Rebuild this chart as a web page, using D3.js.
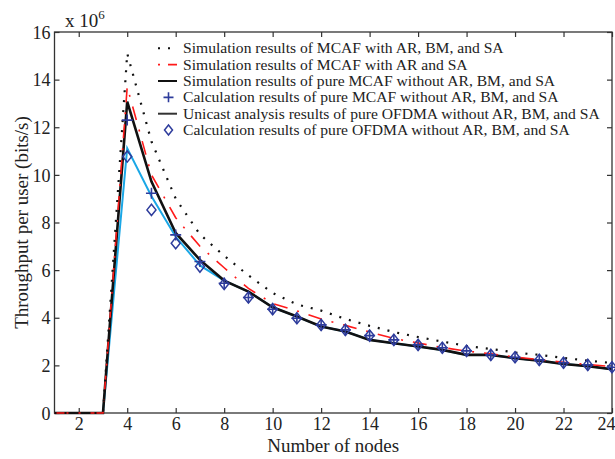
<!DOCTYPE html>
<html><head><meta charset="utf-8">
<script src="https://cdn.jsdelivr.net/npm/d3@7"></script>
<style>body{margin:0;background:#fff}svg{display:block}text{font-family:"Liberation Serif","Times New Roman",serif;fill:#222}</style>
</head><body><div id="c"></div>
<script>
const nodes = d3.range(1, 25);
const simFull   = [0,0,0,15.1,11.4,9.0,7.5,6.6,5.78,5.04,4.56,4.30,3.95,3.66,3.40,3.19,3.00,2.82,2.69,2.54,2.44,2.31,2.20,2.10];
const simARSA   = [0,0,0,13.7,10.0,8.2,7.0,6.1,5.23,4.60,4.29,3.95,3.68,3.40,3.13,2.94,2.75,2.60,2.49,2.35,2.24,2.13,2.04,1.95];
const simPure   = [0,0,0,13.08,9.72,7.56,6.43,5.56,5.10,4.44,4.05,3.63,3.42,3.07,2.93,2.79,2.65,2.44,2.44,2.30,2.20,2.06,1.97,1.84];
const calcPure  = [null,null,null,12.3,9.23,7.48,6.36,5.45,4.85,4.36,3.98,3.70,3.49,3.25,3.07,2.86,2.74,2.61,2.44,2.34,2.23,2.11,2.02,1.92];
const unicast   = [0,0,0,11.12,9.1,7.4,6.2,5.56,5.10,4.44,4.05,3.63,3.42,3.07,2.93,2.79,2.65,2.44,2.44,2.30,2.20,2.06,1.97,1.84];
const calcOfdma = [null,null,null,10.77,8.53,7.13,6.15,5.42,4.85,4.36,3.98,3.70,3.49,3.25,3.07,2.86,2.74,2.61,2.44,2.34,2.23,2.11,2.02,1.92];
const xTicks = d3.range(2, 25, 2);
const yTicks = d3.range(0, 17, 2);
const legendLabels = [
  "Simulation results of MCAF with AR, BM, and SA",
  "Simulation results of MCAF with AR and SA",
  "Simulation results of pure MCAF without AR, BM, and SA",
  "Calculation results of pure MCAF without AR, BM, and SA",
  "Unicast analysis results of pure OFDMA without AR, BM, and SA",
  "Calculation results of pure OFDMA without AR, BM, and SA"
];

const W = 615, H = 459;
const m = {l:54.5, r:3, t:32, b:46};
const svg = d3.select("#c").append("svg").attr("width", W).attr("height", H);
const x = d3.scaleLinear().domain([1,24]).range([m.l, W-m.r]);
const y = d3.scaleLinear().domain([0,16]).range([H-m.b, m.t]);
const blue = "#2e3c9c";
const axisCol = "#333";

// frame
svg.append("rect").attr("x", x(1)).attr("y", y(16)).attr("width", x(24)-x(1)).attr("height", y(0)-y(16))
  .attr("fill","none").attr("stroke",axisCol).attr("stroke-width",1.3);

// axes
const ax = svg.append("g").attr("transform",`translate(0,${y(0)})`)
  .call(d3.axisBottom(x).tickValues(xTicks).tickSizeInner(-5).tickSizeOuter(0).tickPadding(4));
const axT = svg.append("g").attr("transform",`translate(0,${y(16)})`)
  .call(d3.axisTop(x).tickValues(xTicks).tickSizeInner(-5).tickSizeOuter(0).tickFormat(""));
const ay = svg.append("g").attr("transform",`translate(${x(1)},0)`)
  .call(d3.axisLeft(y).tickValues(yTicks).tickSizeInner(-5).tickSizeOuter(0).tickPadding(4));
const ayR = svg.append("g").attr("transform",`translate(${x(24)},0)`)
  .call(d3.axisRight(y).tickValues(yTicks).tickSizeInner(-5).tickSizeOuter(0).tickFormat(""));
[ax,axT,ay,ayR].forEach(g=>{g.select(".domain").remove();g.selectAll("line").attr("stroke",axisCol).attr("stroke-width",1.2);
  g.selectAll("text").style("font-family",'"Liberation Serif",serif').style("font-size","18px").attr("fill","#222");});
ay.selectAll("text").attr("dy","0.34em");
ax.selectAll(".tick").filter(d=>d===24).select("text").attr("text-anchor","end").attr("x",3);

// lines
const lineGen = arr => d3.line().defined((d,i)=>arr[i]!=null).x((d,i)=>x(nodes[i])).y((d,i)=>y(arr[i]))(arr);
const plot = svg.append("g");
plot.append("path").attr("d", lineGen(unicast)).attr("fill","none").attr("stroke","#1aa7e6").attr("stroke-width",2);
plot.append("path").attr("d", lineGen(simPure)).attr("fill","none").attr("stroke","#111").attr("stroke-width",2.6);
plot.append("path").attr("d", lineGen(simARSA)).attr("fill","none").attr("stroke","#ff1a1a").attr("stroke-width",1.6)
  .attr("stroke-dasharray","14,10,2,10");
plot.append("path").attr("d", lineGen(simFull)).attr("fill","none").attr("stroke","#111").attr("stroke-width",2.2)
  .attr("stroke-dasharray","2,8");

const diamond = (cx,cy,s)=>`M${cx},${cy-s*1.25}L${cx+s},${cy}L${cx},${cy+s*1.25}L${cx-s},${cy}Z`;
const plus = (cx,cy,s)=>`M${cx-s},${cy}H${cx+s}M${cx},${cy-s}V${cy+s}`;
plot.selectAll(".dm").data(nodes.filter((d,i)=>calcOfdma[i]!=null)).enter().append("path")
  .attr("d", d=>diamond(x(d), y(calcOfdma[d-1]), 4.5)).attr("fill","none").attr("stroke",blue).attr("stroke-width",1.5);
plot.selectAll(".pl").data(nodes.filter((d,i)=>calcPure[i]!=null)).enter().append("path")
  .attr("d", d=>plus(x(d), y(calcPure[d-1]), 5.5)).attr("fill","none").attr("stroke",blue).attr("stroke-width",1.6);

// legend
const lg = svg.append("g");
const ly0 = 48.3, ldy = 16.35, lx0 = 158, lx1 = 177, ltx = 183;
legendLabels.forEach((t,i)=>{
  const yy = ly0 + i*ldy;
  if(i===0){
    lg.append("line").attr("x1",lx0).attr("x2",lx1).attr("y1",yy).attr("y2",yy).attr("stroke","#111").attr("stroke-width",2).attr("stroke-dasharray","2,8");
  } else if(i===1){
    lg.append("line").attr("x1",lx0).attr("x2",lx1).attr("y1",yy).attr("y2",yy).attr("stroke","#ff1a1a").attr("stroke-width",1.6).attr("stroke-dasharray","2,8,10,10");
  } else if(i===2){
    lg.append("line").attr("x1",lx0).attr("x2",lx1).attr("y1",yy).attr("y2",yy).attr("stroke","#111").attr("stroke-width",2);
  } else if(i===3){
    lg.append("path").attr("d",plus((lx0+lx1)/2+1,yy,5)).attr("stroke",blue).attr("stroke-width",1.6);
  } else if(i===4){
    lg.append("line").attr("x1",lx0).attr("x2",lx1).attr("y1",yy).attr("y2",yy).attr("stroke","#333").attr("stroke-width",2);
  } else {
    lg.append("path").attr("d",diamond((lx0+lx1)/2+1,yy,4)).attr("fill","none").attr("stroke",blue).attr("stroke-width",1.5);
  }
  lg.append("text").attr("x",ltx).attr("y",yy).attr("dy","0.33em").style("font-size","15.6px").text(t);
});

// labels
svg.append("text").attr("x",(x(1)+x(24))/2).attr("y",452).attr("text-anchor","middle").style("font-size","19px").text("Number of nodes");
svg.append("text").attr("transform",`translate(28,${(y(0)+y(16))/2}) rotate(-90)`).attr("text-anchor","middle").style("font-size","19px").text("Throughput per user (bits/s)");
const mult = svg.append("text").attr("x",65).attr("y",27).style("font-size","19px");
mult.append("tspan").text("x 10");
mult.append("tspan").attr("dy",-8).style("font-size","13px").text("6");
</script></body></html>
